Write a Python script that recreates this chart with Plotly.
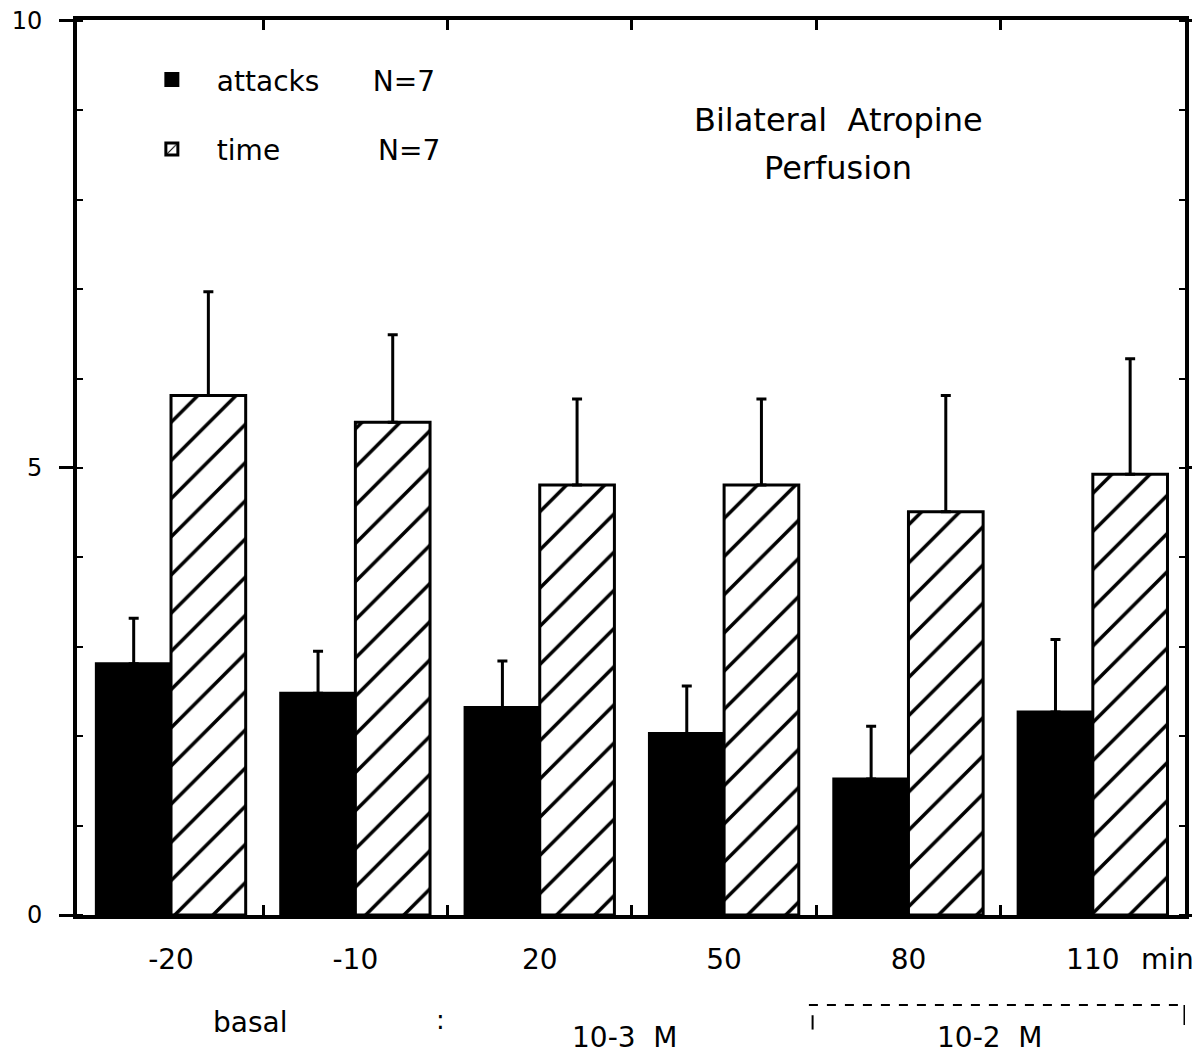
import plotly.graph_objects as go

groups = ["-20", "-10", "20", "50", "80", "110"]
attacks = [2.81, 2.48, 2.32, 2.03, 1.52, 2.27]
attacks_err = [0.51, 0.47, 0.52, 0.53, 0.59, 0.81]
time_vals = [5.81, 5.51, 4.81, 4.81, 4.51, 4.93]
time_err = [1.16, 0.98, 0.96, 0.96, 1.30, 1.29]
y_ticks = [0, 5, 10]

xpos = list(range(len(groups)))
FONT = "DejaVu Sans"
NB = "\u00a0"

fig = go.Figure()
fig.add_trace(go.Bar(
    x=xpos, y=attacks, name="attacks" + NB * 6 + "N=7",
    marker=dict(color="black", line=dict(color="black", width=3)),
    error_y=dict(type="data", symmetric=False, array=attacks_err,
                 arrayminus=[0] * len(attacks), color="black", thickness=3, width=5),
    legendgroup="a",
))
fig.add_trace(go.Bar(
    x=xpos, y=time_vals, name="time" + NB * 11 + "N=7",
    marker=dict(color="white", line=dict(color="black", width=3),
                pattern=dict(shape="/", fgcolor="black", bgcolor="white",
                             fgopacity=1, size=27, solidity=0.13)),
    error_y=dict(type="data", symmetric=False, array=time_err,
                 arrayminus=[0] * len(time_vals), color="black", thickness=3, width=5),
    legendgroup="b",
))

fig.update_layout(
    width=1192, height=1047,
    margin=dict(l=69, r=15, t=12, b=140, autoexpand=False),
    paper_bgcolor="white", plot_bgcolor="white",
    barmode="group", bargap=0.19, bargroupgap=0.0,
    font=dict(family=FONT, size=28, color="black"),
    showlegend=True,
    legend=dict(x=0.045, y=0.961, xanchor="left", yanchor="top",
                bgcolor="rgba(0,0,0,0)", font=dict(size=28, family=FONT),
                tracegroupgap=30, itemwidth=80),
    xaxis=dict(
        range=[-0.51, 5.5], tickmode="array", tickvals=xpos, ticktext=groups,
        ticks="", showline=True, linecolor="black", linewidth=4, mirror="ticks",
        showgrid=False, zeroline=False, tickfont=dict(size=28, family=FONT),
        ticklabelstandoff=16, automargin=False,
        minor=dict(tickmode="array", tickvals=[0.5, 1.5, 2.5, 3.5, 4.5],
                   ticks="inside", ticklen=10, tickwidth=3, tickcolor="black"),
    ),
    yaxis=dict(
        range=[0, 10.01], tickmode="array", tickvals=y_ticks,
        ticks="outside", ticklen=14, tickwidth=3, tickcolor="black",
        showline=True, linecolor="black", linewidth=4, mirror="ticks",
        showgrid=False, zeroline=False, tickfont=dict(size=24, family=FONT),
        ticklabelstandoff=12, automargin=False, ticklabeloverflow="allow",
        minor=dict(dtick=1, ticks="inside", ticklen=6, tickwidth=2, tickcolor="black"),
    ),
)

fig.add_annotation(x=5.25, y=-0.05, xref="x", yref="paper", text="min",
                   showarrow=False, xanchor="left", yanchor="middle",
                   font=dict(size=28, family=FONT))
fig.add_annotation(x=3.62, y=0.888, xref="x", yref="paper",
                   text="Bilateral  Atropine", showarrow=False, yanchor="middle",
                   font=dict(size=32, family=FONT))
fig.add_annotation(x=3.62, y=0.835, xref="x", yref="paper",
                   text="Perfusion", showarrow=False, yanchor="middle",
                   font=dict(size=32, family=FONT))
fig.add_annotation(x=0.43, y=-0.1196, xref="x", yref="paper", text="basal",
                   showarrow=False, yanchor="middle", font=dict(size=28, family=FONT))
fig.add_annotation(x=1.46, y=-0.117, xref="x", yref="paper", text=":",
                   showarrow=False, yanchor="middle", font=dict(size=26, family=FONT))
fig.add_annotation(x=2.46, y=-0.137, xref="x", yref="paper", text="10-3  M",
                   showarrow=False, yanchor="middle", font=dict(size=28, family=FONT))
fig.add_annotation(x=4.44, y=-0.137, xref="x", yref="paper", text="10-2  M",
                   showarrow=False, yanchor="middle", font=dict(size=28, family=FONT))

fig.add_shape(type="line", xref="x", yref="paper", x0=3.46, x1=5.5,
              y0=-0.1006, y1=-0.1006, line=dict(color="black", width=2, dash="dash"))
fig.add_shape(type="line", xref="x", yref="paper", x0=5.5, x1=5.5,
              y0=-0.1006, y1=-0.123, line=dict(color="black", width=3))
fig.add_shape(type="line", xref="x", yref="paper", x0=3.48, x1=3.48,
              y0=-0.112, y1=-0.128, line=dict(color="black", width=2))

fig.write_html("out.html")
